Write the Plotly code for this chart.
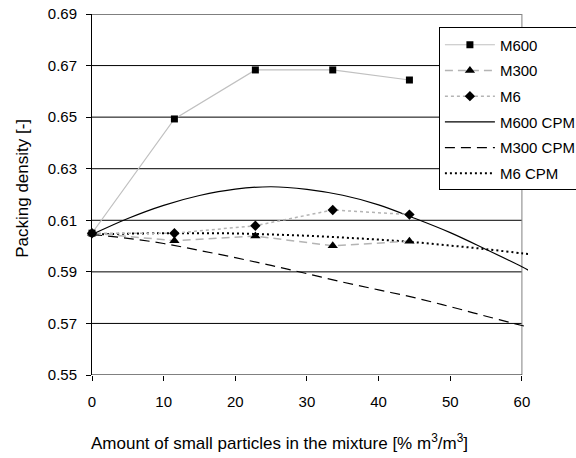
import plotly.graph_objects as go

# measured data
x_meas = [0, 11.5, 22.8, 33.6, 44.3]
m600 = [0.605, 0.6493, 0.6683, 0.6683, 0.6644]
m300 = [0.605, 0.6021, 0.6039, 0.6001, 0.6019]
m6 = [0.605, 0.6050, 0.6079, 0.6140, 0.6122]

# CPM model curves
x_cpm = [0, 5, 10, 15, 20, 25, 30, 35, 40, 45, 50, 55, 60, 61]
cpm600 = [0.6045, 0.6107, 0.6158, 0.6196, 0.6221, 0.6230, 0.6220, 0.6197, 0.6160, 0.6108, 0.6052, 0.5987, 0.5920, 0.5905]
cpm300 = [0.6045, 0.6030, 0.6010, 0.5983, 0.5955, 0.5925, 0.5893, 0.5860, 0.5830, 0.5800, 0.5765, 0.5728, 0.5692, 0.5685]
cpm6 = [0.6045, 0.6048, 0.6050, 0.6050, 0.6049, 0.6045, 0.6040, 0.6033, 0.6025, 0.6015, 0.6002, 0.5988, 0.5972, 0.5969]

y_ticks = [0.55, 0.57, 0.59, 0.61, 0.63, 0.65, 0.67, 0.69]
x_ticks = [0, 10, 20, 30, 40, 50, 60]

FONT = "Liberation Sans, Arial, sans-serif"

fig = go.Figure()

fig.add_trace(go.Scatter(x=x_cpm, y=cpm600, name="M600 CPM", mode="lines", line_shape="spline",
                         line=dict(color="black", width=1.2), legendrank=4, legendgroup="d"))
fig.add_trace(go.Scatter(x=x_cpm, y=cpm300, name="M300 CPM", mode="lines", line_shape="spline",
                         line=dict(color="black", width=1.2, dash="10px,6px"), legendrank=5, legendgroup="e"))
fig.add_trace(go.Scatter(x=x_cpm, y=cpm6, name="M6 CPM", mode="lines", line_shape="spline",
                         line=dict(color="black", width=2, dash="2px,3px"), legendrank=6, legendgroup="f"))

fig.add_trace(go.Scatter(x=x_meas, y=m600, name="M600", mode="lines+markers",
                         line=dict(color="#c0c0c0", width=1.2),
                         marker=dict(symbol="square", size=7, color="black"), legendrank=1, legendgroup="a",
                         cliponaxis=False))
fig.add_trace(go.Scatter(x=x_meas, y=m300, name="M300", mode="lines+markers",
                         line=dict(color="#b4b4b4", width=1.5, dash="8px,5px"),
                         marker=dict(symbol="triangle-up", size=9, color="black"), legendrank=2, legendgroup="b",
                         cliponaxis=False))
fig.add_trace(go.Scatter(x=x_meas, y=m6, name="M6", mode="lines+markers",
                         line=dict(color="#b4b4b4", width=1.5, dash="3px,3px"),
                         marker=dict(symbol="diamond", size=8, color="black"), legendrank=3, legendgroup="c",
                         cliponaxis=False))

shapes = []
for v in y_ticks[1:]:
    shapes.append(dict(type="line", xref="x", yref="y", x0=0, x1=60, y0=v, y1=v,
                       line=dict(color="black", width=1), layer="below"))
shapes.append(dict(type="line", xref="x", yref="y", x0=60, x1=60, y0=0.55, y1=0.69,
                   line=dict(color="#808080", width=1), layer="below"))
shapes.append(dict(type="line", xref="x", yref="y", x0=0, x1=60, y0=0.55, y1=0.55,
                   line=dict(color="black", width=1), layer="below"))

fig.update_layout(
    width=576, height=458,
    margin=dict(l=92, r=48, t=14, b=83, autoexpand=False),
    plot_bgcolor="white", paper_bgcolor="white",
    font=dict(family=FONT, size=15, color="black"),
    showlegend=True,
    legend=dict(xref="container", yref="container", x=0.762, y=0.94, xanchor="left", yanchor="top",
                bordercolor="black", borderwidth=1, bgcolor="white",
                font=dict(family=FONT, size=15, color="black"),
                tracegroupgap=3.2, itemwidth=50),
    shapes=shapes,
    annotations=[
        dict(text="Amount of small particles in the mixture [% m<sup>3</sup>/m<sup>3</sup>]",
             xref="paper", yref="paper", x=0.429, y=-0.186, xanchor="center", yanchor="middle",
             showarrow=False, font=dict(family=FONT, size=17, color="black")),
        dict(text="Packing density [-]", textangle=-90,
             xref="paper", yref="paper", x=-0.161, y=0.518, xanchor="center", yanchor="middle",
             showarrow=False, font=dict(family=FONT, size=17, color="black")),
    ],
)

fig.update_xaxes(range=[0, 60.85], showgrid=False, zeroline=False, showline=False,
                 tickmode="array", tickvals=x_ticks, ticktext=[str(t) for t in x_ticks],
                 ticks="outside", ticklen=5, tickcolor="black", ticklabelstandoff=8)
fig.update_yaxes(range=[0.55, 0.69], showgrid=False, zeroline=False, showline=True,
                 linecolor="black", linewidth=1,
                 tickmode="array", tickvals=y_ticks, ticktext=["%.2f" % t for t in y_ticks],
                 ticks="outside", ticklen=5, tickcolor="black", ticklabelstandoff=6)

fig.write_html("out.html", config={"displayModeBar": False},
               post_script="document.body.style.margin='0px';document.body.style.overflow='hidden';")
